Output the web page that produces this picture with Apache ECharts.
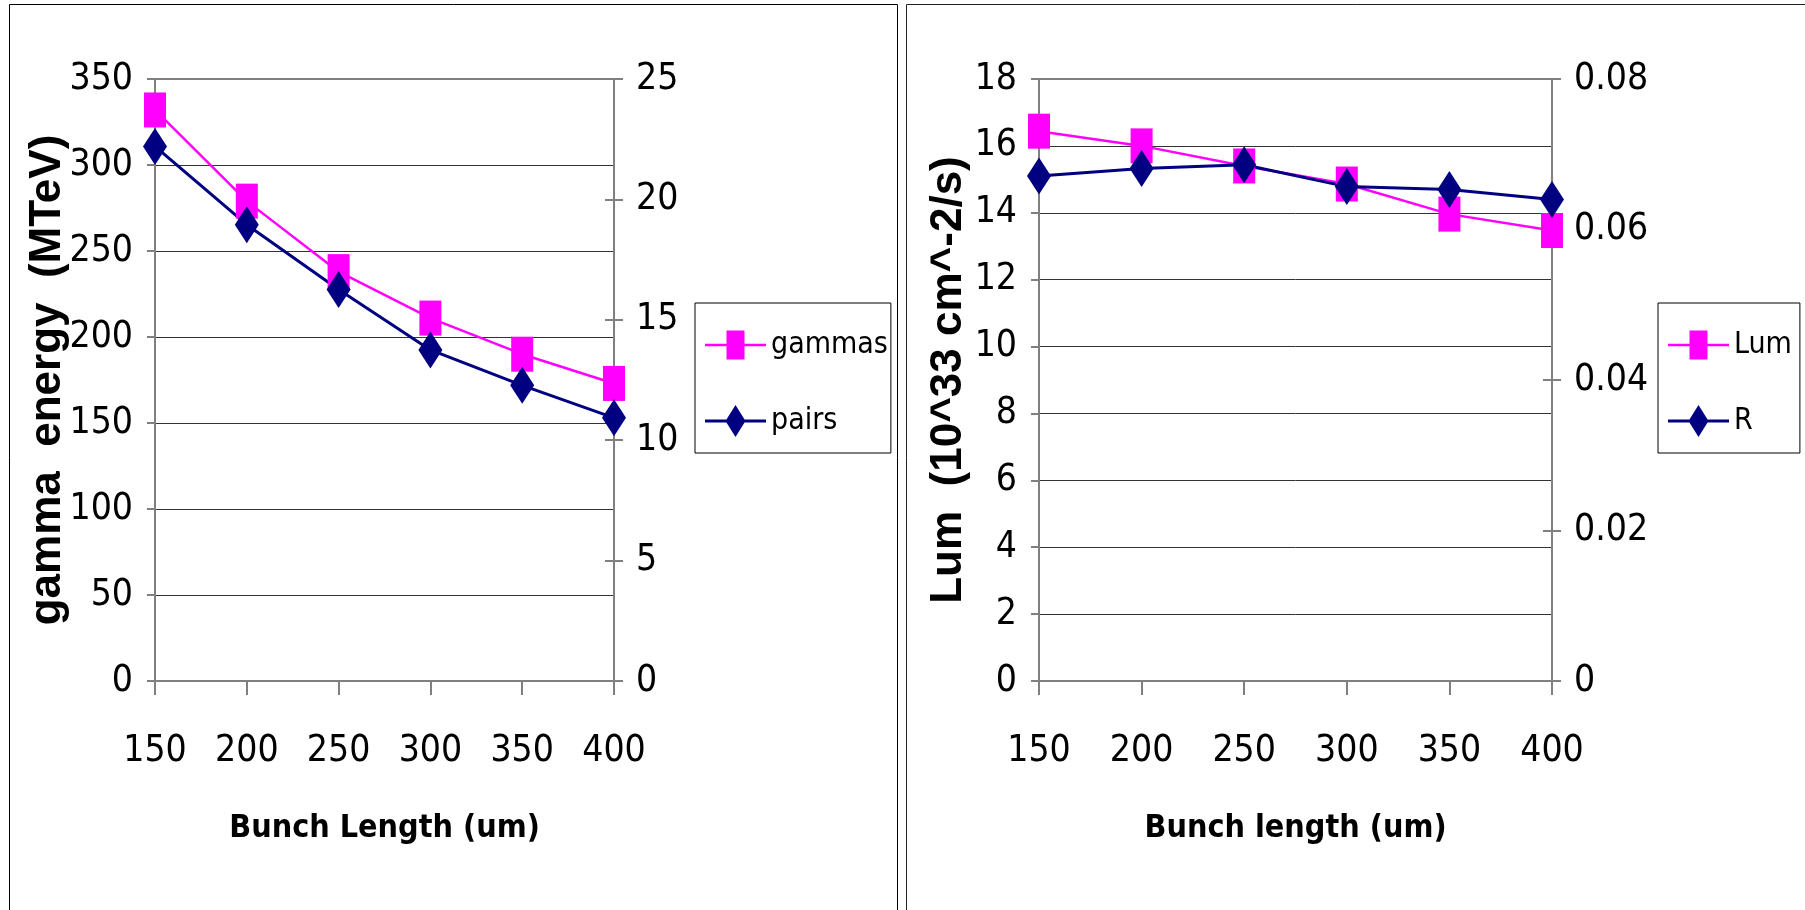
<!DOCTYPE html>
<html>
<head>
<meta charset="utf-8">
<script src="https://cdn.jsdelivr.net/npm/echarts@6/dist/echarts.min.js"></script>
<style>
html,body{margin:0;padding:0;background:#fff;}
#c{width:1805px;height:910px;}
</style>
</head>
<body>
<div id="c"></div>
<script>
// ---- data ----
const bunchLengths = [150, 200, 250, 300, 350, 400];
const gammas = [332, 279, 238, 211, 190, 173];          // gamma energy (MTeV), left axis
const pairs = [22.2, 18.95, 16.26, 13.75, 12.28, 10.93]; // right axis
const lum = [16.44, 16.0, 15.4, 14.86, 13.96, 13.47];   // Lum (10^33 cm^-2/s), left axis
const rValues = [0.0671, 0.0681, 0.0686, 0.0657, 0.0653, 0.0640]; // right axis
const leftXName = 'Bunch Length (um)';
const rightXName = 'Bunch length (um)';
const leftYName = 'gamma  energy  (MTeV)';
const rightYName = 'Lum  (10^33 cm^-2/s)';

// ---- styling ----
const NARROW = "'Liberation Sans Narrow', 'DejaVu Sans Condensed', 'Liberation Sans', sans-serif";
const SANS = "'Liberation Sans', Arial, sans-serif";
const MAGENTA = '#ff00ff';
const NAVY = '#000080';
const AXIS_GRAY = '#808080';
const tickFont = {fontFamily: NARROW, fontSize: 37, color: '#000'};

const pts = (ys) => bunchLengths.map((x, i) => [x, ys[i]]);

const squareIcon = 'path://M30.5 0L30.5 32M0 14.75h61v2.5H0zM21.5 1.5h18v29h-18z';
const diamondIcon = 'path://M0 14.5h61v3H0zM30.5 0L40.5 16L30.5 32L20.5 16z';

function xAxis(gridIndex, name) {
  return {
    type: 'value', gridIndex, min: 150, max: 400, interval: 50,
    name, nameLocation: 'middle', nameGap: 132, nameMoveOverlap: false,
    nameTextStyle: {fontFamily: NARROW, fontWeight: 'bold', fontSize: 32, color: '#000'},
    axisLine: {show: true, onZero: false, lineStyle: {color: AXIS_GRAY, width: 2}},
    axisTick: {show: true, length: 14, lineStyle: {color: AXIS_GRAY, width: 2}},
    axisLabel: Object.assign({margin: 52}, tickFont),
    splitLine: {show: false}
  };
}
function yLeft(gridIndex, max, interval, name, gap) {
  return {
    type: 'value', gridIndex, position: 'left', min: 0, max, interval,
    name, nameLocation: 'middle', nameGap: gap, nameMoveOverlap: false,
    nameTextStyle: {fontFamily: SANS, fontWeight: 'bold', fontSize: 44, color: '#000'},
    axisLine: {show: true, lineStyle: {color: AXIS_GRAY, width: 2}},
    axisTick: {show: true, length: 8, lineStyle: {color: AXIS_GRAY, width: 2}},
    axisLabel: Object.assign({margin: 22}, tickFont),
    splitLine: {show: true, showMinLine: false, showMaxLine: false, lineStyle: {color: '#333', width: 1}}
  };
}
function yRight(gridIndex, max, interval) {
  return {
    type: 'value', gridIndex, position: 'right', min: 0, max, interval,
    axisLine: {show: true, lineStyle: {color: AXIS_GRAY, width: 2}},
    axisTick: {show: true, length: 9, lineStyle: {color: AXIS_GRAY, width: 2}},
    axisLabel: Object.assign({margin: 22}, tickFont),
    splitLine: {show: false}
  };
}
function yRightInner(gridIndex, max, interval) {
  return {
    type: 'value', gridIndex, position: 'right', min: 0, max, interval,
    axisLine: {show: false},
    axisTick: {show: true, inside: true, length: 9, lineStyle: {color: AXIS_GRAY, width: 2}},
    axisLabel: {show: false},
    splitLine: {show: false}
  };
}
function legend(left, names, padRight) {
  return {
    orient: 'vertical', left, top: 303,
    padding: [24, padRight, 14, 10],
    itemWidth: 61, itemHeight: 32, itemGap: 40,
    symbolKeepAspect: true,
    backgroundColor: '#fff', borderColor: '#000', borderWidth: 1,
    textStyle: {fontFamily: NARROW, fontSize: 30, lineHeight: 36, color: '#000'},
    itemStyle: {borderWidth: 0},
    data: [{name: names[0], icon: squareIcon}, {name: names[1], icon: diamondIcon}]
  };
}
function lineSeries(name, xi, yi, data, color, symbol, size, width) {
  return {
    name, type: 'line', xAxisIndex: xi, yAxisIndex: yi, data: pts(data),
    symbol, symbolSize: size, clip: false, animation: false,
    lineStyle: {color, width}, itemStyle: {color, borderWidth: 0},
    emphasis: {disabled: true}
  };
}

const chart = echarts.init(document.getElementById('c'), null, {renderer: 'canvas'});
chart.setOption({
  animation: false,
  backgroundColor: '#fff',
  graphic: [
    {type: 'rect', shape: {x: 9.5, y: 4.5, width: 888, height: 1000}, style: {fill: 'none', stroke: '#000', lineWidth: 1}, silent: true, z: -10},
    {type: 'rect', shape: {x: 906.5, y: 4.5, width: 1000, height: 1000}, style: {fill: 'none', stroke: '#222', lineWidth: 1}, silent: true, z: -10}
  ],
  grid: [
    {left: 155, top: 79, width: 459, height: 602, show: true, borderColor: AXIS_GRAY, borderWidth: 2, backgroundColor: 'transparent', containLabel: false, outerBoundsMode: 'none'},
    {left: 1039, top: 79, width: 513, height: 602, show: true, borderColor: AXIS_GRAY, borderWidth: 2, backgroundColor: 'transparent', containLabel: false, outerBoundsMode: 'none'}
  ],
  legend: [legend(695, ['gammas', 'pairs'], 3), legend(1658, ['Lum', 'R'], 8)],
  xAxis: [xAxis(0, leftXName), xAxis(1, rightXName)],
  yAxis: [
    yLeft(0, 350, 50, leftYName, 85),
    yRight(0, 25, 5),
    yRightInner(0, 25, 5),
    yLeft(1, 18, 2, rightYName, 68),
    yRight(1, 0.08, 0.02),
    yRightInner(1, 0.08, 0.02)
  ],
  series: [
    lineSeries('gammas', 0, 0, gammas, MAGENTA, 'rect', [22, 35], 2.5),
    lineSeries('pairs', 0, 1, pairs, NAVY, 'diamond', [24, 37], 3),
    lineSeries('Lum', 1, 3, lum, MAGENTA, 'rect', [22, 35], 2.5),
    lineSeries('R', 1, 4, rValues, NAVY, 'diamond', [24, 37], 3)
  ]
});
</script>
</body>
</html>
